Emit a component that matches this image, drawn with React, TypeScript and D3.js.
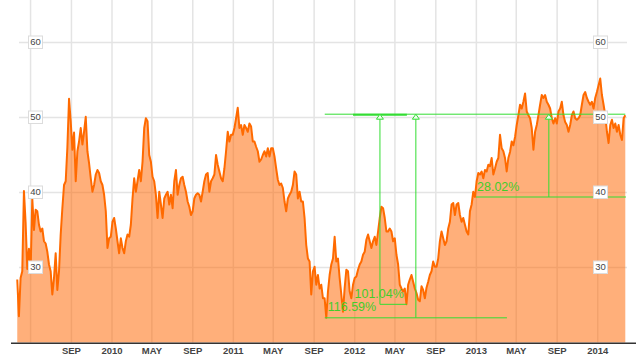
import React from 'react';
import * as d3 from 'd3';

// ---- data ----
const START_DATE = '2009-03-22';
const END_DATE = '2014-03-25';
const PRICES: number[] = [
  28.4, 23.5, 28.6, 29.5, 40.2, 36.0, 29.8, 32.5, 29.5, 39.2,
  35.0, 37.7, 37.5, 35.7, 34.8, 35.2, 33.5, 33.2, 32.1, 30.4,
  29.5, 26.4, 28.6, 31.9, 27.0, 29.5, 34.4, 37.9, 41.0, 41.5,
  46.0, 52.5, 49.5, 45.7, 48.0, 41.5, 45.5, 46.8, 48.6, 46.4,
  48.1, 50.1, 45.5, 43.9, 41.9, 40.1, 41.0, 42.4, 43.0, 42.6,
  41.5, 41.0, 39.7, 37.5, 32.6, 33.9, 34.1, 36.1, 36.6, 35.2,
  33.5, 31.9, 33.9, 32.6, 31.9, 33.5, 34.4, 34.1, 35.7, 39.2,
  41.9, 40.1, 41.5, 43.0,
  41.5, 44.1, 48.6, 49.9, 49.5, 45.0, 44.1, 42.1, 41.5, 39.7,
  36.6, 40.1, 38.4, 36.6, 39.2, 39.7, 40.1, 38.4, 39.7, 37.9,
  41.5, 43.0, 39.7, 41.0, 41.9, 42.1, 41.0, 40.1, 38.8, 38.1,
  37.0, 37.5, 39.2, 39.7, 39.9, 39.7, 38.8, 40.1, 41.5, 42.4,
  42.6, 40.1, 41.5, 41.9, 42.4, 45.0, 43.7, 42.8, 41.9, 41.5,
  43.2, 45.5, 48.1, 46.8, 47.7, 47.7, 48.6, 49.9, 51.3, 48.6,
  49.0, 47.7, 49.0, 48.6, 48.1, 49.2, 48.8, 46.8, 46.8, 46.1,
  45.5, 44.1, 44.4,
  45.0, 45.5, 44.8, 45.9, 44.8, 45.9, 45.9, 44.8, 43.2, 41.7,
  41.0, 41.2, 40.6, 38.8, 37.5, 39.2, 39.7, 40.1, 41.0, 42.8,
  42.4, 39.2, 40.1, 38.8, 38.8, 36.6, 33.0, 31.2, 30.8, 26.4,
  29.5, 30.1, 27.7, 29.0, 27.2, 27.7, 25.9, 25.9, 23.3, 26.8,
  29.0, 30.4, 31.2, 34.1, 30.8, 31.2, 28.6, 26.4, 24.1, 27.3,
  29.7, 29.5, 26.8, 25.9, 27.7, 28.6, 28.8, 29.7, 30.4, 30.8,
  31.7, 32.1, 33.7, 34.4, 33.5, 32.6, 33.5, 34.1, 33.0, 34.8,
  36.6, 38.1, 37.9,
  36.6, 34.8, 34.8, 35.2, 34.8, 33.5, 33.9, 31.7, 30.4, 27.7,
  27.2, 26.8, 27.2, 25.1, 27.7, 28.4, 29.0, 28.1, 27.2, 26.6,
  25.7, 25.5, 27.5, 27.0, 25.9, 27.3, 28.1, 29.0, 29.5, 30.8,
  30.1, 30.1, 31.2, 33.5, 34.8, 33.9, 33.0, 33.5, 35.2, 36.1,
  38.4, 38.6, 37.0, 38.4, 38.6, 37.0, 36.1, 36.6, 35.7, 34.8,
  34.4, 37.5, 38.4, 40.1, 39.4, 41.5, 42.6, 42.4, 42.8, 41.9,
  43.0, 42.8, 43.7, 43.5, 44.6, 42.4, 43.2, 44.1, 44.6, 47.7,
  45.9, 45.5, 44.6,
  42.8, 44.6, 45.4, 46.8, 46.3, 47.4, 49.0, 50.3, 51.7, 51.2,
  52.1, 53.2, 50.8, 50.3, 49.9, 48.6, 45.7, 48.1, 49.0, 50.3,
  51.7, 53.0, 52.6, 53.0, 52.1, 51.7, 51.2, 49.9, 49.2, 49.9,
  49.2, 50.8, 51.2, 52.1, 50.3, 49.4, 49.0, 48.1, 49.0, 50.3,
  50.8, 49.9, 49.7, 49.9, 50.3, 51.7, 53.0, 53.4, 52.6, 52.1,
  51.7, 52.1, 51.2, 52.6, 53.4, 54.3, 55.2, 53.0, 51.7, 50.3,
  48.1, 46.6, 49.0, 49.7, 48.6, 49.2, 48.1, 49.0, 47.7, 47.0,
  49.9, 50.3,
];

const TICK_DATES = [
  '2009-05-01', '2009-09-01', '2010-01-01', '2010-05-01', '2010-09-01',
  '2011-01-01', '2011-05-01', '2011-09-01', '2012-01-01', '2012-05-01',
  '2012-09-01', '2013-01-01', '2013-05-01', '2013-09-01', '2014-01-01',
];
const TICK_LABELS = [
  '', 'SEP', '2010', 'MAY', 'SEP', '2011', 'MAY', 'SEP', '2012', 'MAY',
  'SEP', '2013', 'MAY', 'SEP', '2014',
];
const Y_TICKS = [30, 40, 50, 60];

// annotations (price-change measurements)
const ANNOT_HIGH = 50.44;
const ANNOT_TOP_SPAN = ['2011-10-03', '2014-03-25'];
const ANNOT_TOP_BOLD = ['2011-12-27', '2012-06-06'];
const ANNOT_LABELS = ['116.59%', '101.04%', '28.02%'];
const ANNOT_LOWS = [23.29, 25.09, 39.4];
const ANNOT_LOW_START = ['2011-10-03', '2012-03-17', '2012-12-31'];
const ANNOT_LOW_END = ['2013-04-03', '2012-06-06', '2014-03-27'];
const ANNOT_VERT = ['2012-07-03', '2012-03-17', '2013-08-07'];

const W = 636;
const H = 357;
const parse = d3.timeParse('%Y-%m-%d');

export default function App() {
  const t0 = parse(START_DATE)!.getTime();
  const t1 = parse(END_DATE)!.getTime();
  const n = PRICES.length;
  const data = PRICES.map((v, i) => ({ d: new Date(t0 + ((t1 - t0) * i) / (n - 1)), v }));

  const x = d3.scaleTime()
    .domain([parse('2010-01-01')!, parse('2014-01-01')!])
    .range([112, 597.7]);
  const y = d3.scaleLinear().domain([20, 60]).range([342.5, 42.5]);

  const line = d3.line<{ d: Date; v: number }>().x(p => x(p.d)).y(p => y(p.v));
  const area = d3.area<{ d: Date; v: number }>().x(p => x(p.d)).y0(y(20)).y1(p => y(p.v));

  const green = '#33dd33';
  const textGreen = '#44cc2a';
  const font = "'Liberation Sans', Arial, sans-serif";
  const yHigh = y(ANNOT_HIGH);

  return (
    <svg width={W} height={H} style={{ position: 'absolute', left: 0, top: 0, background: '#fff' }}>
      {/* grid */}
      {Y_TICKS.map(t => (
        <line key={'h' + t} x1={19} x2={627} y1={y(t)} y2={y(t)} stroke="#e4e4e4" strokeWidth={1.5} />
      ))}
      {TICK_DATES.map(t => (
        <line key={'v' + t} x1={x(parse(t)!)} x2={x(parse(t)!)} y1={0} y2={y(20)} stroke="#e4e4e4" strokeWidth={1.5} />
      ))}
      {/* area + line */}
      <path d={area(data)!} fill="#ff6600" fillOpacity={0.52} />
      <path d={line(data)!} fill="none" stroke="#ff6a00" strokeWidth={2} strokeLinejoin="round" />
      {/* axis */}
      <line x1={11} x2={W} y1={343.3} y2={343.3} stroke="#333" strokeWidth={1.5} />
      {TICK_DATES.map((t, i) => (
        <text key={'xl' + t} x={x(parse(t)!)} y={353.5} textAnchor="middle" fontFamily={font}
          fontSize={9.5} fontWeight="bold" fill="#444">{TICK_LABELS[i]}</text>
      ))}
      {/* annotations */}
      <line x1={x(parse(ANNOT_TOP_SPAN[0])!)} x2={x(parse(ANNOT_TOP_SPAN[1])!)} y1={yHigh} y2={yHigh}
        stroke={green} strokeWidth={1} />
      <line x1={x(parse(ANNOT_TOP_BOLD[0])!)} x2={x(parse(ANNOT_TOP_BOLD[1])!)} y1={yHigh + 0.6} y2={yHigh + 0.6}
        stroke={green} strokeWidth={2} />
      {ANNOT_LABELS.map((lab, i) => {
        const yl = y(ANNOT_LOWS[i]);
        const xv = x(parse(ANNOT_VERT[i])!);
        const xs = x(parse(ANNOT_LOW_START[i])!);
        const xe = x(parse(ANNOT_LOW_END[i])!);
        const anchorEnd = i === 1;
        return (
          <g key={lab}>
            <line x1={xs} x2={xe} y1={yl} y2={yl} stroke={green} strokeWidth={1} />
            <line x1={xv} x2={xv} y1={yHigh + 4} y2={yl} stroke={green} strokeWidth={1} />
            <path d={`M${xv},${yHigh} L${xv - 3.5},${yHigh + 5} L${xv + 3.5},${yHigh + 5} Z`}
              fill="#f0fff0" stroke={green} strokeWidth={1} />
            <text x={anchorEnd ? xe - 3 : xs + (i === 0 ? 3 : 1)} y={yl - 6.5}
              textAnchor={anchorEnd ? 'end' : 'start'} fontFamily={font} fontSize={12.5} fill={textGreen}>{lab}</text>
          </g>
        );
      })}
      {/* y labels */}
      {Y_TICKS.map(t => (
        <g key={'yl' + t}>
          {[35.5, 600.5].map(cx => (
            <g key={cx}>
              <rect x={cx - 7} y={y(t) - 6.5} width={14} height={12.5} fill="#fff" stroke="#dcdcdc" strokeWidth={1} />
              <text x={cx} y={y(t) + 2.8} textAnchor="middle" fontFamily={font} fontSize={9.5} fill="#444">{t}</text>
            </g>
          ))}
        </g>
      ))}
    </svg>
  );
}
